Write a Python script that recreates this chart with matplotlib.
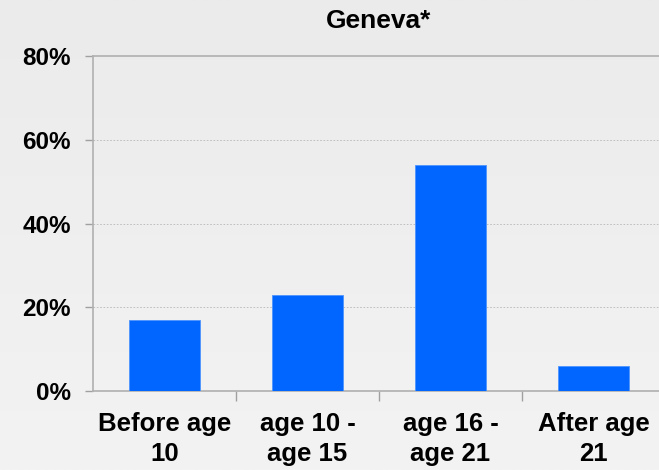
import numpy as np
from matplotlib import pyplot as plt

# values
categories = ["Before age\n10", "age 10 -\nage 15", "age 16 -\nage 21", "After age\n21"]
shares = [17, 23, 54, 6]
y_ticks = [0, 20, 40, 60, 80]
y_tick_labels = ["0%", "20%", "40%", "60%", "80%"]

plt.rcParams['font.family'] = ['Liberation Sans', 'DejaVu Sans']

fig = plt.figure(figsize=(6.59, 4.70), dpi=100)

# light grey gradient background
bg = fig.add_axes([0, 0, 1, 1], zorder=-10)
grad = np.linspace(0, 1, 256).reshape(-1, 1)
bg.imshow(grad, aspect='auto', cmap=plt.matplotlib.colors.LinearSegmentedColormap.from_list(
    "bg", ["#ebebeb", "#f3f3f3"]), extent=[0, 1, 0, 1], origin='upper')
bg.axis('off')

ax = fig.add_axes([93 / 659, 1 - 391 / 470, 572 / 659, 335 / 470])
ax.patch.set_alpha(0)

x = np.arange(len(categories))
ax.bar(x, shares, width=0.5, color='#0066ff', edgecolor='#4d94ff', linewidth=0.6, zorder=3)

ax.set_xlim(-0.5, len(categories) - 0.5)
ax.set_ylim(0, 80)
ax.set_yticks(y_ticks)
ax.set_yticklabels(y_tick_labels, fontsize=17.5, fontweight='bold')
ax.set_xticks(x)
ax.set_xticklabels(categories, fontsize=18.5, fontweight='bold', linespacing=1.3)
ax.tick_params(axis='x', length=0, pad=15)
ax.set_xticks(np.arange(0.5, len(categories) - 0.5, 1), minor=True)
ax.tick_params(axis='x', which='minor', length=7, color='#a0a0a0', width=1)
ax.tick_params(axis='y', length=6, color='#a0a0a0', width=1, pad=10)

for v in y_ticks[1:-1]:
    ax.axhline(v, color='#b8b8b8', linestyle=(0, (2, 2)), linewidth=0.6, zorder=1)

for side in ['left', 'bottom', 'top']:
    ax.spines[side].set_color('#b0b0b0')
    ax.spines[side].set_linewidth(1.2)
ax.spines['right'].set_visible(False)

ax.set_title("Geneva*", fontsize=19, fontweight='bold', pad=20)

fig.savefig("out.png", dpi=100)
